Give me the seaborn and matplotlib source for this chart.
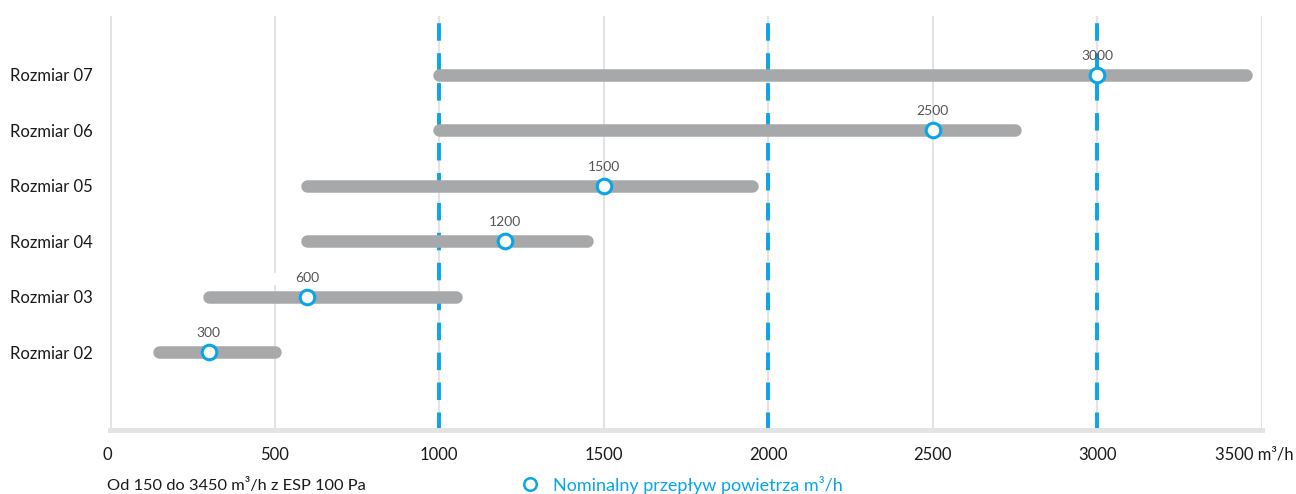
import matplotlib
matplotlib.use("Agg")
import matplotlib.pyplot as plt
import matplotlib.transforms as mtransforms
import seaborn as sns
import pandas as pd

# Unit sizes and their airflow ranges (m³/h)
sizes = ["Rozmiar 02", "Rozmiar 03", "Rozmiar 04", "Rozmiar 05", "Rozmiar 06", "Rozmiar 07"]
flow_min = [150, 300, 600, 600, 1000, 1000]
flow_max = [500, 1050, 1450, 1950, 2750, 3450]
nominal = [300, 600, 1200, 1500, 2500, 3000]

x_ticks = [0, 500, 1000, 1500, 2000, 2500, 3000, 3500]
x_tick_labels = ["0", "500", "1000", "1500", "2000", "2500", "3000", "3500 m³/h"]
highlight_lines = [1000, 2000, 3000]

footer_text = "Od 150 do 3450 m³/h z ESP 100 Pa"
legend_text = "Nominalny przepływ powietrza m³/h"

BAR = "#A7A8AA"
BLUE = "#0AA5E6"
GRID = "#E3E3E3"
TEXT = "#1A1A1A"

sns.set_theme(style="white")
plt.rcParams["font.family"] = ["Lato", "DejaVu Sans"]

df = pd.DataFrame({"size": sizes, "lo": flow_min, "hi": flow_max, "nom": nominal})
df["pos"] = range(len(df))

fig = plt.figure(figsize=(12.96, 4.94), dpi=100)
ax = fig.add_axes([110 / 1296, 1 - 430 / 494, (1262 - 110) / 1296, (430 - 16) / 494])

# Light vertical grid
for xv in x_ticks:
    lw = 2.2 if xv in (0, 3500) else 1.5
    if xv == 500:
        ax.axvline(xv, ymin=0, ymax=0.348, color=GRID, lw=lw, zorder=0)
        ax.axvline(xv, ymin=0.382, ymax=1, color=GRID, lw=lw, zorder=0)
    else:
        ax.axvline(xv, color=GRID, lw=lw, zorder=0)

# Blue dashed reference lines
for xv in highlight_lines:
    ax.axvline(xv, ymin=0, ymax=0.99, color=BLUE, lw=2.8, ls=(0, (4.5, 3.2)), zorder=1)

# Range bars with rounded ends
for _, r in df.iterrows():
    ax.plot([r["lo"], r["hi"]], [r["pos"], r["pos"]], color=BAR, lw=9,
            solid_capstyle="round", zorder=2)

# Nominal airflow markers
sns.scatterplot(data=df, x="nom", y="pos", ax=ax, s=110, color="white",
                edgecolor=BLUE, linewidth=2.2, zorder=4, legend=False)
for _, r in df.iterrows():
    ax.annotate(f"{r['nom']}", (r["nom"], r["pos"]), xytext=(0, 9.5),
                textcoords="offset points", ha="center", va="bottom",
                fontsize=10, color="#555555")

ax.set_xlim(0, 3500)
ax.set_ylim(-1.4, 6.06)
ax.set_yticks(df["pos"])
ax.set_yticklabels(sizes, fontsize=12, color=TEXT)
for lab in ax.get_yticklabels():
    lab.set_horizontalalignment("left")
    lab.set_x(-100 / 1152)
ax.tick_params(axis="y", length=0, pad=0)
ax.set_xticks(x_ticks)
ax.set_xticklabels(x_tick_labels, fontsize=12, color=TEXT)
ax.tick_params(axis="x", length=4, width=1.5, color=GRID, pad=8)
last = ax.get_xticklabels()[-1]
last.set_transform(last.get_transform() + mtransforms.ScaledTranslation(-8 / 100, 0, fig.dpi_scale_trans))
first = ax.get_xticklabels()[0]
first.set_transform(first.get_transform() + mtransforms.ScaledTranslation(-3 / 100, 0, fig.dpi_scale_trans))

for s in ["top", "right", "left"]:
    ax.spines[s].set_visible(False)
ax.spines["bottom"].set_color(GRID)
ax.spines["bottom"].set_linewidth(3.5)
ax.set_xlabel("")
ax.set_ylabel("")

# Footer notes and legend
fig.text(107 / 1296, 1 - 485 / 494, footer_text, fontsize=11.8, color=TEXT,
         ha="left", va="center")
fig.lines.append(plt.Line2D([530 / 1296], [1 - 484 / 494], transform=fig.transFigure,
                            marker="o", markersize=9, markerfacecolor="white",
                            markeredgecolor=BLUE, markeredgewidth=1.8, ls="none"))
fig.text(553 / 1296, 1 - 485 / 494, legend_text, fontsize=13, color=BLUE,
         ha="left", va="center")

fig.savefig("out.png", dpi=100)
